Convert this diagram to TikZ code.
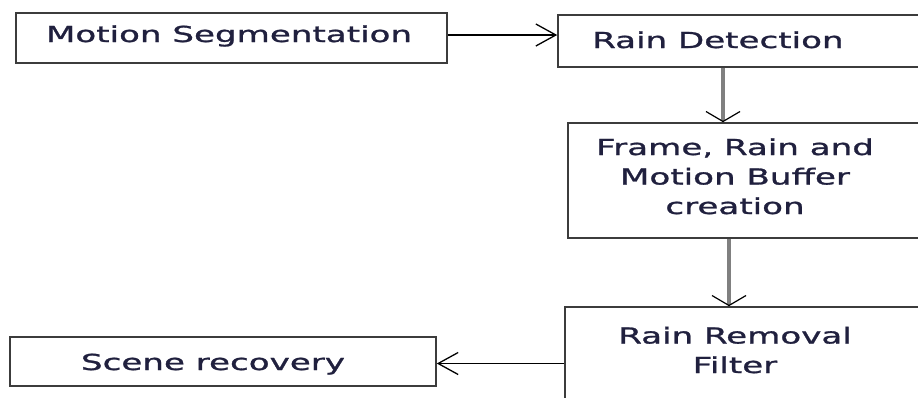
\documentclass[tikz,border=0pt]{standalone}
\usepackage{fontspec}
\usetikzlibrary{arrows.meta}
\newfontfamily\boxfont[FakeStretch=1.55,FakeBold=1.2]{DejaVu Sans}
\definecolor{txtcol}{RGB}{32,32,62}
\definecolor{edgecol}{RGB}{60,60,60}
\begin{document}
\begin{tikzpicture}[x=1pt,y=-1pt,
		box/.style={draw=edgecol,line width=1.6pt,inner sep=0pt},
		lbl/.style={font=\boxfont\fontsize{22}{29.5}\selectfont,text=txtcol,inner sep=0pt,align=center},
		harrow/.style={line width=1.3pt,-{Straight Barb[length=20pt,width=22pt,line width=1.3pt]}},
		varrow/.style={line width=3.5pt,gray,-{Straight Barb[length=10pt,width=34pt,line width=1.2pt,color=black]}}]
		\useasboundingbox (0,0) rectangle (918,397);
		\clip (0,0) rectangle (918,397);
		\fill[white] (0,0) rectangle (918,397);
		\node[box,minimum width=431pt,minimum height=50pt] (ms) at (231.5,38) {};
		\node[box,minimum width=372pt,minimum height=52pt] (rd) at (744,41) {};
		\node[box,minimum width=362pt,minimum height=115pt] (fr) at (749,180.5) {};
		\node[box,minimum width=365pt,minimum height=113pt] (rr) at (747.5,363.5) {};
		\node[box,minimum width=426pt,minimum height=49pt] (sr) at (223,361.5) {};
		\node[lbl,anchor=base] (mstext) at (229,42) {Motion Segmentation};
		\node[lbl,anchor=base west] (rdtext) at (592,48) {Rain Detection};
		\node[lbl,anchor=base] (frtext) at (735,214) {Frame, Rain and\\Motion Buffer\\creation};
		\node[lbl,anchor=base] (rrtext) at (735,373) {Rain Removal\\Filter};
		\node[lbl,anchor=base] (srtext) at (213,370) {Scene recovery};
		\draw[harrow] ([yshift=3pt]ms.east) -- ([yshift=3pt]ms.east -| rd.west);
		\draw[varrow] ([xshift=-21pt]rd.south) -- ([xshift=-21pt]rd.south |- fr.north);
		\draw[varrow] ([xshift=-20pt]fr.south) -- ([xshift=-20pt]fr.south |- rr.north);
		\draw[harrow] (rr.west) -- (rr.west -| sr.east);
	\end{tikzpicture}
\end{document}
